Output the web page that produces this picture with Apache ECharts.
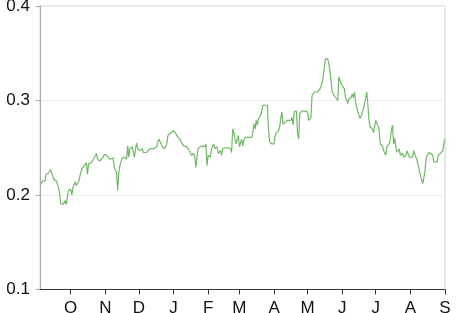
<!DOCTYPE html>
<html>
<head>
<meta charset="utf-8">
<script src="https://cdn.jsdelivr.net/npm/echarts@6/dist/echarts.min.js"></script>
<style>
html,body{margin:0;padding:0;background:#fff;}
#chart{width:459px;height:313px;}
</style>
</head>
<body>
<div id="chart"></div>
<script>
// day offsets from 1 Oct 2014
const dayOffsets = [
-27,-26,-25,-23,-22,-20,-19,-18,-17,-16,-15,-14,-13,-12,-11,-10,-9,-7,-5,-4,-3,-2,-1,0,1,2,4,5,6,7,8,9,10,11,12,13,14,15,16,18,20,21,23,24,26,27,29,30,32,33,35,36,38,39,41,42,43,44,45,
46,48,50,51,52,53,55,56,57,58,59,60,62,64,65,66,68,69,71,72,74,75,77,78,79,81,82,83,84,86,87,89,90,92,93,94,95,96,98,99,101,102,104,105,107,108,110,111,112,113,114,116,117,
118,120,121,122,123,125,126,128,129,131,132,134,135,136,138,141,143,144,145,146,147,148,150,151,153,154,155,156,159,162,163,164,165,166,167,168,170,171,172,174,176,177,178,180,182,183,184,186,187,188,189,190,191,
192,194,195,197,198,199,200,201,202,203,204,205,207,209,212,213,215,216,218,221,222,223,225,226,227,228,230,231,232,233,234,236,237,239,240,242,243,245,246,247,248,249,251,252,253,254,255,256,257,258,259,260,261,262,264,265,
266,267,268,270,271,273,274,276,277,279,280,282,283,285,286,287,288,289,290,291,292,294,295,297,298,300,301,303,304,306,307,309,310,312,313,315,316,317,318,319,321,322,324,325,328,329,331,333,334,335
];
const values = [
0.211,0.213,0.215,0.215,0.222,0.223,0.224,0.227,0.223,0.224,0.216,0.214,0.215,0.212,0.208,0.202,0.191,0.190,0.194,0.190,0.191,0.205,0.203,0.206,0.200,0.208,0.214,0.210,0.212,0.214,0.215,0.224,0.228,0.226,0.231,0.230,0.234,0.222,0.233,0.234,0.237,0.235,0.244,0.238,0.236,0.237,0.240,0.243,0.242,0.244,0.238,0.237,0.239,0.229,0.224,0.205,0.223,0.231,0.233,
0.239,0.240,0.238,0.252,0.240,0.249,0.251,0.245,0.240,0.249,0.255,0.249,0.247,0.249,0.245,0.244,0.245,0.247,0.249,0.247,0.249,0.249,0.251,0.256,0.259,0.254,0.251,0.249,0.249,0.254,0.263,0.265,0.266,0.268,0.268,0.265,0.265,0.261,0.259,0.256,0.252,0.254,0.251,0.249,0.245,0.242,0.244,0.240,0.229,0.241,0.249,0.251,0.251,
0.252,0.251,0.254,0.231,0.242,0.240,0.249,0.254,0.249,0.251,0.244,0.247,0.242,0.249,0.250,0.250,0.249,0.245,0.270,0.266,0.259,0.254,0.263,0.251,0.259,0.252,0.258,0.261,0.261,0.261,0.266,0.275,0.270,0.279,0.274,0.281,0.284,0.289,0.295,0.295,0.295,0.270,0.256,0.254,0.254,0.263,0.266,0.268,0.272,0.281,0.288,0.275,0.274,
0.277,0.279,0.281,0.279,0.282,0.274,0.288,0.286,0.289,0.266,0.259,0.286,0.289,0.289,0.288,0.279,0.282,0.305,0.309,0.309,0.311,0.312,0.318,0.316,0.334,0.344,0.344,0.339,0.332,0.321,0.309,0.305,0.303,0.300,0.325,0.318,0.316,0.312,0.303,0.305,0.297,0.302,0.303,0.307,0.303,0.309,0.298,0.300,0.288,0.284,0.281,0.284,0.282,0.291,0.303,0.309,
0.295,0.279,0.272,0.270,0.266,0.279,0.277,0.270,0.254,0.252,0.247,0.242,0.251,0.254,0.258,0.268,0.274,0.254,0.260,0.251,0.245,0.249,0.242,0.244,0.240,0.242,0.247,0.240,0.242,0.240,0.247,0.240,0.237,0.226,0.221,0.212,0.214,0.224,0.237,0.242,0.245,0.247,0.242,0.235,0.235,0.242,0.244,0.247,0.254,0.259
];
const monthLetters = ['J','F','M','A','M','J','J','A','S','O','N','D'];
const yTicks = [0.1, 0.2, 0.3, 0.4];

const toTime = d => new Date(2014, 9, 1 + d).getTime();
const seriesData = dayOffsets.map((d, i) => [toTime(d), values[i]]);

const chart = echarts.init(document.getElementById('chart'), null, {renderer: 'canvas'});
chart.setOption({
  animation: false,
  backgroundColor: '#fff',
  textStyle: {fontFamily: 'Liberation Sans, Arial, sans-serif'},
  grid: {left: 40, right: 14, top: 6, bottom: 23.5, show: true, borderColor: '#d0d0d0', borderWidth: 1, containLabel: false, outerBoundsMode: 'none'},
  xAxis: {
    type: 'time',
    min: new Date(2014, 8, 3, 12).getTime(),
    max: new Date(2015, 8, 1).getTime(),
    splitNumber: 12,
    minInterval: 28 * 86400000,
    maxInterval: 31 * 86400000,
    axisLine: {show: true, lineStyle: {color: '#333', width: 1}},
    axisTick: {show: true, length: 5, lineStyle: {color: '#333'}},
    axisLabel: {
      fontSize: 17, color: '#111', margin: 10,
      formatter: v => monthLetters[new Date(v).getMonth()]
    },
    splitLine: {show: false}
  },
  yAxis: {
    type: 'value',
    min: yTicks[0], max: yTicks[yTicks.length - 1], interval: 0.1,
    axisLine: {show: true, lineStyle: {color: '#aaa'}},
    axisTick: {show: true, length: 4, lineStyle: {color: '#aaa'}},
    axisLabel: {fontSize: 17, color: '#111', margin: 10, formatter: v => v.toFixed(1)},
    splitLine: {show: true, lineStyle: {color: '#f0f0f0'}}
  },
  series: [{
    type: 'line',
    data: seriesData,
    showSymbol: false,
    lineStyle: {color: '#70b866', width: 1.2},
    itemStyle: {color: '#70b866'}
  }]
});
</script>
</body>
</html>
